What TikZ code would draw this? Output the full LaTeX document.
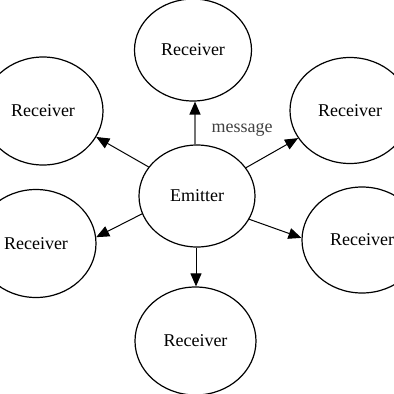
\documentclass[tikz,border=0pt]{standalone}
\usepackage{fontspec}
\setmainfont{Liberation Serif}
\usetikzlibrary{shapes.geometric,arrows.meta}
\begin{document}
\begin{tikzpicture}[x=1pt,y=-1pt,
  circ/.style={ellipse,draw,line width=1.2pt,inner sep=0pt,font=\fontsize{18}{20}\selectfont},
  rcv/.style={circ,minimum width=120pt,minimum height=108pt},
  link/.style={line width=1pt,-{Triangle[length=13pt,width=11pt]}}]
\useasboundingbox (0,0) rectangle (394,394);
\clip (0,0) rectangle (394,394);
\node[circ,minimum width=116pt,minimum height=102pt] (em) at (197,196) {Emitter};
\node[rcv,minimum width=117pt,minimum height=102pt] (top) at (193,50) {Receiver};
\node[rcv] (ul) at (43,111) {Receiver};
\node[rcv,minimum height=106pt] (ur) at (350,110.5) {Receiver};
\node[rcv] (ll) at (36,243.5) {Receiver};
\node[rcv,minimum height=106pt] (lr) at (362,240) {Receiver};
\node[rcv,minimum width=121pt] (bot) at (195.5,341) {Receiver};
\coordinate (tx) at (195,0);
\draw[link,black!55,line width=1.6pt,-{Triangle[length=13pt,width=11pt,black]}] (tx |- em.north) -- (tx |- top.south);
\node[font=\fontsize{18}{20}\selectfont,text=black!75] (msg) at (242,130) {message};
\draw[link] (em.149) -- (ul.334);
\draw[link] (em.30) -- (ur.208);
\draw[link] (em.198) -- (ll.6);
\draw[link] (em.336) -- (lr.178);
\coordinate (bx) at (196,0);
\draw[link] (bx |- em.south) -- (bx |- bot.north);
\end{tikzpicture}
\end{document}
